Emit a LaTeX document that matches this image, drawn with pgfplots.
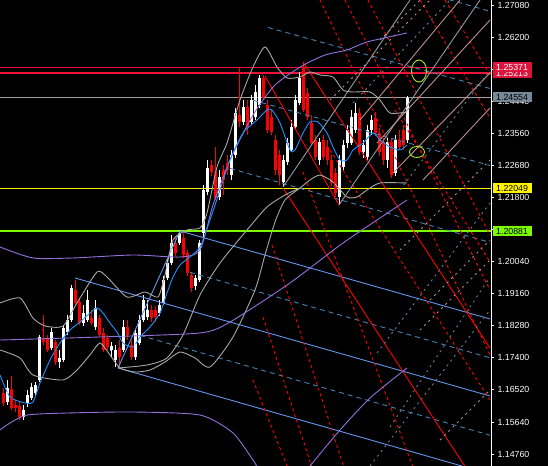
\documentclass[border=0pt]{standalone}
\usepackage{fontspec}
\setmainfont{Liberation Sans}
\usepackage{pgfplots}
\usepackage{pgfplotstable}
\pgfplotsset{compat=1.18}
\definecolor{crim}{HTML}{DC143C}
\definecolor{hlred}{HTML}{F0103A}
\definecolor{slate}{HTML}{778899}
\definecolor{lgreen}{HTML}{7CFC00}
\definecolor{egreen}{HTML}{A8E61E}
\definecolor{bbgrey}{HTML}{A8A8A8}
\definecolor{hgrey}{HTML}{A0A0A0}
\definecolor{dblue}{HTML}{1E90FF}
\definecolor{cblue}{HTML}{6495ED}
\definecolor{sblue}{HTML}{4682B4}
\definecolor{mpurple}{HTML}{9370DB}
\definecolor{rosy}{HTML}{BC8F8F}
\definecolor{sgrey}{HTML}{708090}
\definecolor{gline}{HTML}{8E99A6}

\pgfplotstableread{
x o h l c
7 1.16189 1.16793 1.16107 1.16573
23 1.15778 1.16107 1.15695 1.15970
27 1.16162 1.16518 1.16052 1.16381
31 1.16299 1.16711 1.16244 1.16601
35 1.16436 1.16738 1.16354 1.16656
39 1.16793 1.18027 1.16738 1.17972
51 1.17671 1.18220 1.17616 1.18110
59 1.17287 1.17616 1.17122 1.17397
63 1.17342 1.18302 1.17287 1.18220
67 1.18110 1.18576 1.18027 1.18439
71 1.18439 1.19400 1.18384 1.19317
83 1.18357 1.18851 1.18275 1.18631
87 1.18439 1.19262 1.18384 1.18988
95 1.18247 1.18988 1.18165 1.18769
111 1.17616 1.17835 1.17397 1.17726
115 1.17342 1.17753 1.17150 1.17616
123 1.17616 1.18439 1.17561 1.18247
135 1.17424 1.18165 1.17342 1.18082
139 1.17808 1.18576 1.17753 1.18439
143 1.18439 1.19125 1.18384 1.18988
147 1.18521 1.18988 1.18439 1.18714
159 1.18631 1.18988 1.18549 1.18851
163 1.18906 1.19647 1.18851 1.19537
167 1.19592 1.20141 1.19537 1.20003
171 1.20003 1.20772 1.19948 1.20552
179 1.20552 1.20909 1.20497 1.20827
195 1.19372 1.19674 1.19262 1.19592
199 1.19537 1.20634 1.19482 1.20552
203 1.20827 1.22144 1.20634 1.22006
207 1.21951 1.22830 1.21869 1.22610
219 1.21814 1.22555 1.21732 1.22363
231 1.22418 1.23104 1.22281 1.22967
235 1.22967 1.24256 1.22885 1.24119
243 1.23872 1.24476 1.23790 1.24284
251 1.23872 1.24613 1.23790 1.24476
255 1.24009 1.24887 1.23927 1.24695
259 1.24339 1.25162 1.24256 1.25080
283 1.22226 1.22967 1.22089 1.22830
287 1.22775 1.23433 1.22692 1.23296
291 1.23104 1.23927 1.23049 1.23735
295 1.23735 1.24613 1.23653 1.24476
299 1.24393 1.25244 1.24339 1.25080
319 1.22830 1.23433 1.22692 1.23323
339 1.21814 1.22967 1.21595 1.22830
343 1.22637 1.23378 1.22555 1.23241
347 1.23296 1.23790 1.23159 1.23653
351 1.23296 1.24202 1.23241 1.24009
355 1.23653 1.24393 1.23570 1.24119
363 1.23049 1.23378 1.22885 1.23241
367 1.22912 1.23790 1.22830 1.23653
371 1.23653 1.24064 1.23516 1.23927
387 1.22830 1.23433 1.22610 1.23323
395 1.22473 1.23516 1.22390 1.23378
407 1.23378 1.24586 1.23296 1.24531
}\bull

\pgfplotstableread{
x o h l c
3 1.16436 1.16573 1.16079 1.16162
11 1.16546 1.16903 1.15970 1.16024
15 1.16107 1.16244 1.15915 1.16024
19 1.16079 1.16189 1.15695 1.15778
43 1.17945 1.18576 1.17753 1.17835
47 1.17917 1.18027 1.17561 1.17616
55 1.17835 1.17890 1.17205 1.17287
75 1.19262 1.19537 1.18851 1.18906
79 1.18933 1.19043 1.18302 1.18357
91 1.18494 1.18714 1.18302 1.18357
99 1.18494 1.18576 1.17972 1.18027
103 1.18082 1.18220 1.17561 1.17616
107 1.17945 1.18027 1.17616 1.17698
119 1.17671 1.17890 1.17150 1.17424
127 1.18247 1.18439 1.17890 1.18027
131 1.17753 1.17890 1.17342 1.17424
151 1.18714 1.18851 1.18384 1.18494
155 1.18714 1.18823 1.18384 1.18521
175 1.20552 1.20689 1.20196 1.20278
183 1.20689 1.20827 1.20141 1.20223
187 1.20278 1.20360 1.19647 1.19729
191 1.19674 1.19756 1.19207 1.19317
211 1.22692 1.22830 1.22390 1.22500
215 1.22500 1.23186 1.21732 1.21787
223 1.22555 1.22692 1.21869 1.22281
227 1.22747 1.22967 1.22418 1.22555
239 1.24064 1.25354 1.23735 1.23872
247 1.24284 1.24476 1.23516 1.23735
263 1.25080 1.25162 1.24476 1.24531
267 1.24339 1.24476 1.23570 1.23653
271 1.24009 1.24202 1.23516 1.23598
275 1.23378 1.23516 1.22418 1.22555
279 1.22967 1.23104 1.22144 1.22418
303 1.25381 1.25519 1.24147 1.24202
307 1.24668 1.24805 1.23927 1.24009
311 1.23845 1.24064 1.23241 1.23296
315 1.23378 1.23516 1.22830 1.22912
323 1.23378 1.23516 1.22830 1.22912
327 1.23186 1.23378 1.22692 1.22830
331 1.22830 1.22967 1.22116 1.22198
335 1.22473 1.22610 1.21814 1.21924
359 1.24119 1.24256 1.22967 1.23049
375 1.23982 1.24147 1.23488 1.23570
379 1.23570 1.23708 1.22939 1.23049
383 1.23323 1.23433 1.22692 1.22830
391 1.23323 1.23433 1.22336 1.22418
399 1.23378 1.23653 1.23104 1.23186
403 1.23653 1.23790 1.23104 1.23241
}\bear

\begin{document}
\begin{tikzpicture}
\useasboundingbox (0,0) rectangle (548bp,466bp);
\fill[black] (0,0) rectangle (548bp,466bp);
\begin{axis}[
  at={(0,0)}, anchor=south west,
  width=491bp, height=466bp, scale only axis,
  xmin=0, xmax=491, ymin=1.14433, ymax=1.27220,
  axis background/.style={fill=black},
  axis x line=none,
  axis y line=right,
  y axis line style={white, line width=0.9bp, -},
  ytick={1.1476,1.1564,1.1652,1.1740,1.1828,1.1916,1.2004,1.2092,1.2180,1.2268,1.2356,1.2444,1.2532,1.2620,1.2708},
  yticklabels={1.14760,1.15640,1.16520,1.17400,1.18280,1.19160,1.20040,1.20920,1.21800,1.22680,1.23560,1.24440,1.25320,1.26200,1.27080},
  tick align=outside, major tick length=3bp,
  ytick style={white, line width=0.9bp},
  yticklabel style={font=\fontsize{8.8bp}{10bp}\selectfont, text=white},
  every axis plot/.append style={line width=0.9bp},
]
% horizontal levels
\addplot[hlred, mark=none, line width=1.7bp] table {
x y
0 1.25371
491 1.25371
};
\addplot[hlred, mark=none, line width=1.7bp] table {
x y
0 1.25213
491 1.25213
};
\addplot[hgrey, mark=none, line width=1.1bp] table {
x y
0 1.24554
491 1.24554
};
\addplot[yellow, mark=none, line width=1.2bp] table {
x y
0 1.22049
491 1.22049
};
\addplot[lgreen, mark=none, line width=1.3bp] table {
x y
0 1.20881
491 1.20881
};

% candles
\addplot[white, only marks, mark=*, mark size=0.2bp, error bars/.cd, y dir=both, y explicit, error mark=none, error bar style={white, line width=1bp}]
  table[x=x, y expr={(\thisrow{h}+\thisrow{l})/2}, y error expr={(\thisrow{h}-\thisrow{l})/2}] {\bull};
\addplot[white, only marks, mark=*, mark size=0.2bp, error bars/.cd, y dir=both, y explicit, error mark=none, error bar style={white, line width=3bp}]
  table[x=x, y expr={(\thisrow{o}+\thisrow{c})/2}, y error expr={abs(\thisrow{c}-\thisrow{o})/2}] {\bull};
\addplot[red, only marks, mark=*, mark size=0.2bp, error bars/.cd, y dir=both, y explicit, error mark=none, error bar style={red, line width=1bp}]
  table[x=x, y expr={(\thisrow{h}+\thisrow{l})/2}, y error expr={(\thisrow{h}-\thisrow{l})/2}] {\bear};
\addplot[red, only marks, mark=*, mark size=0.2bp, error bars/.cd, y dir=both, y explicit, error mark=none, error bar style={red, line width=3bp}]
  table[x=x, y expr={(\thisrow{o}+\thisrow{c})/2}, y error expr={abs(\thisrow{o}-\thisrow{c})/2}] {\bear};

% pitchfork solid lines
\addplot[cblue] coordinates {(75,1.19592) (490,1.16354)};
\addplot[cblue] coordinates {(180,1.20881) (490,1.18467)};
\addplot[cblue] coordinates {(118,1.17122) (490,1.14213)};
\addplot[cblue] coordinates {(118,1.17122) (180,1.20881)};
% dashed channel levels
\addplot[sblue, dash pattern=on 5bp off 4bp] coordinates {(190,1.19748) (490,1.17402)};
\addplot[sblue, dash pattern=on 5bp off 4bp] coordinates {(140,1.18017) (490,1.15278)};
\addplot[sblue, dash pattern=on 5bp off 4bp] coordinates {(230,1.22599) (490,1.20569)};
\addplot[sblue, dash pattern=on 5bp off 4bp] coordinates {(253,1.24468) (490,1.22680)};
\addplot[sblue, dash pattern=on 5bp off 4bp] coordinates {(268,1.26465) (490,1.24792)};
\addplot[sblue, dash pattern=on 5bp off 4bp] coordinates {(440,1.27300) (490,1.26909)};

% red solid
\addplot[red] coordinates {(265,1.25135) (339,1.21595)};
\addplot[red] coordinates {(283,1.22061) (490,1.13371)};
\addplot[red] coordinates {(303,1.25519) (490,1.17671)};
% red dashed
\addplot[red, dash pattern=on 3bp off 3bp] coordinates {(253,1.16793) (295,1.13884)};
\addplot[red, dash pattern=on 3bp off 3bp] coordinates {(263,1.18522) (318,1.13884)};
\addplot[red, dash pattern=on 3bp off 3bp] coordinates {(272,1.20497) (350,1.13884)};
\addplot[red, dash pattern=on 3bp off 3bp] coordinates {(303,1.22500) (420,1.13884)};
\addplot[red, dash pattern=on 3bp off 3bp] coordinates {(330,1.23104) (490,1.16244)};
\addplot[red, dash pattern=on 3bp off 3bp] coordinates {(320,1.27220) (490,1.17479)};
\addplot[red, dash pattern=on 3bp off 3bp] coordinates {(368,1.27220) (490,1.20772)};
\addplot[red, dash pattern=on 3bp off 3bp] coordinates {(420,1.27220) (490,1.23982)};
\addplot[red, dash pattern=on 3bp off 3bp] coordinates {(395,1.24202) (490,1.20031)};
\addplot[red, dash pattern=on 3bp off 3bp] coordinates {(345,1.27220) (490,1.19262)};
\addplot[red, dash pattern=on 3bp off 3bp] coordinates {(445,1.27220) (490,1.25162)};

% grey solid rising
\addplot[gline] coordinates {(283,1.22089) (410,1.27220)};
\addplot[gline] coordinates {(339,1.21595) (480,1.27220)};
% rosy solid
\addplot[rosy] coordinates {(377,1.23296) (490,1.26671)};
\addplot[rosy] coordinates {(393,1.22473) (490,1.25217)};
\addplot[rosy] coordinates {(423,1.22281) (490,1.24257)};
\addplot[rosy] coordinates {(360,1.23927) (460,1.27220)};
% rosy dashed
\addplot[rosy, dash pattern=on 2bp off 4bp] coordinates {(330,1.24476) (430,1.27220)};
\addplot[rosy, dash pattern=on 2bp off 4bp] coordinates {(400,1.20360) (490,1.22830)};
\addplot[rosy, dash pattern=on 2bp off 4bp] coordinates {(430,1.18988) (490,1.20634)};
\addplot[rosy, dash pattern=on 2bp off 4bp] coordinates {(380,1.26122) (420,1.27220)};
\addplot[rosy, dash pattern=on 2bp off 4bp] coordinates {(420,1.18165) (490,1.20086)};
\addplot[rosy, dash pattern=on 2bp off 4bp] coordinates {(440,1.15146) (490,1.16518)};
% grey dashed
\addplot[sgrey, dash pattern=on 2bp off 4bp] coordinates {(377,1.17534) (490,1.21650)};
\addplot[sgrey, dash pattern=on 2bp off 4bp] coordinates {(390,1.15503) (490,1.19619)};
\addplot[sgrey, dash pattern=on 2bp off 4bp] coordinates {(353,1.24394) (450,1.27220)};
\addplot[sgrey, dash pattern=on 2bp off 4bp] coordinates {(400,1.22006) (490,1.25299)};
\addplot[sgrey, dash pattern=on 2bp off 4bp] coordinates {(370,1.14433) (490,1.18714)};

% Bollinger (grey)
\addplot[bbgrey, smooth, tension=0.4] coordinates {(0,1.18906) (20,1.19043) (33,1.18494) (45,1.18275) (63,1.18275) (77,1.18906) (97,1.19756) (107,1.19619) (127,1.19070) (145,1.19208) (158,1.19070) (165,1.19674) (173,1.20634) (187,1.20909) (200,1.20964) (207,1.21375) (217,1.22638) (227,1.23296) (240,1.24476) (253,1.25382) (265,1.25930) (277,1.25382) (287,1.25080) (300,1.25107) (310,1.25244) (320,1.25162) (333,1.25107) (343,1.24750) (353,1.24696) (370,1.24696) (380,1.24476) (390,1.24119) (407,1.24147)};
\addplot[bbgrey, smooth, tension=0.4] coordinates {(0,1.17616) (20,1.17397) (33,1.16930) (63,1.16793) (77,1.17067) (90,1.17479) (100,1.17808) (110,1.17479) (120,1.17122) (135,1.17012) (150,1.17067) (165,1.17287) (180,1.17561) (195,1.17397) (210,1.17150) (233,1.17973) (255,1.19262) (265,1.20223) (275,1.21128) (285,1.21732) (300,1.22061) (310,1.22281) (320,1.22418) (333,1.22226) (347,1.21814) (357,1.21814) (367,1.22006) (380,1.22199) (407,1.22199)};
\addplot[bbgrey, smooth, tension=0.4] coordinates {(118,1.17122) (147,1.17204) (167,1.17397) (183,1.18028) (200,1.19125) (220,1.20003) (247,1.20909) (267,1.21540) (285,1.21869) (300,1.22061)};

% purple bands
\addplot[mpurple, smooth, tension=0.4] coordinates {(0,1.20442) (33,1.20141) (73,1.20141) (133,1.20223) (180,1.20168) (200,1.20360) (213,1.21595) (230,1.22830) (253,1.24064) (275,1.24888) (302,1.25409) (325,1.25711) (347,1.25848) (367,1.26068) (407,1.26315)};
\addplot[mpurple, smooth, tension=0.4] coordinates {(0,1.17890) (100,1.17973) (200,1.18083) (230,1.18384) (290,1.19455) (343,1.20552) (407,1.21732)};
\addplot[mpurple, smooth, tension=0.4] coordinates {(0,1.15421) (10,1.15613) (27,1.15832) (67,1.15887) (133,1.15915) (200,1.15832) (233,1.15339) (255,1.14515) (265,1.14104) (300,1.14049) (310,1.14433) (340,1.15421) (370,1.16299) (407,1.17122)};

% blue MA
\addplot[dblue, smooth, tension=0.4] coordinates {(0,1.16930) (10,1.16326) (25,1.16162) (33,1.16189) (40,1.16711) (50,1.17342) (60,1.17808) (70,1.18165) (80,1.18384) (90,1.18631) (97,1.18769) (103,1.18631) (110,1.18357) (117,1.18110) (123,1.17808) (133,1.17698) (140,1.17973) (150,1.18247) (160,1.18631) (167,1.19180) (173,1.19619) (180,1.19948) (190,1.20168) (200,1.20442) (210,1.21183) (220,1.22006) (230,1.22830) (243,1.23571) (257,1.23927) (267,1.24202) (272,1.24202) (280,1.23845) (290,1.23104) (295,1.23104) (303,1.23571) (310,1.23872) (318,1.23872) (327,1.23571) (333,1.23186) (340,1.22830) (347,1.22830) (353,1.23104) (363,1.23296) (373,1.23571) (380,1.23378) (390,1.23186) (400,1.23104) (407,1.23241)};

% ellipses
\addplot[only marks, mark=o, mark size=7.5bp, mark options={yscale=1.47, draw=egreen, line width=0.9bp}] coordinates {(419,1.25272)};
\addplot[only marks, mark=o, mark size=7.5bp, mark options={yscale=0.73, draw=egreen, line width=0.9bp}] coordinates {(417,1.23049)};

\coordinate (L1) at (axis cs:491,1.25371);
\coordinate (L2) at (axis cs:491,1.25213);
\coordinate (L3) at (axis cs:491,1.24554);
\coordinate (L4) at (axis cs:491,1.22049);
\coordinate (L5) at (axis cs:491,1.20881);
\end{axis}
\tikzset{pl/.style={anchor=west, inner xsep=3.5bp, inner ysep=0bp, minimum height=10bp, font=\fontsize{8.8bp}{10bp}\selectfont}}
\node[pl, fill=crim, text=white] at ([xshift=1.5bp]L2) {1.25213};
\node[pl, fill=crim, text=white] at ([xshift=1.5bp]L1) {1.25371};
\node[pl, fill=slate, text=black] at ([xshift=1.5bp]L3) {1.24554};
\node[pl, fill=yellow, text=black] at ([xshift=1.5bp]L4) {1.22049};
\node[pl, fill=lgreen, text=black] at ([xshift=1.5bp]L5) {1.20881};
\end{tikzpicture}
\end{document}
